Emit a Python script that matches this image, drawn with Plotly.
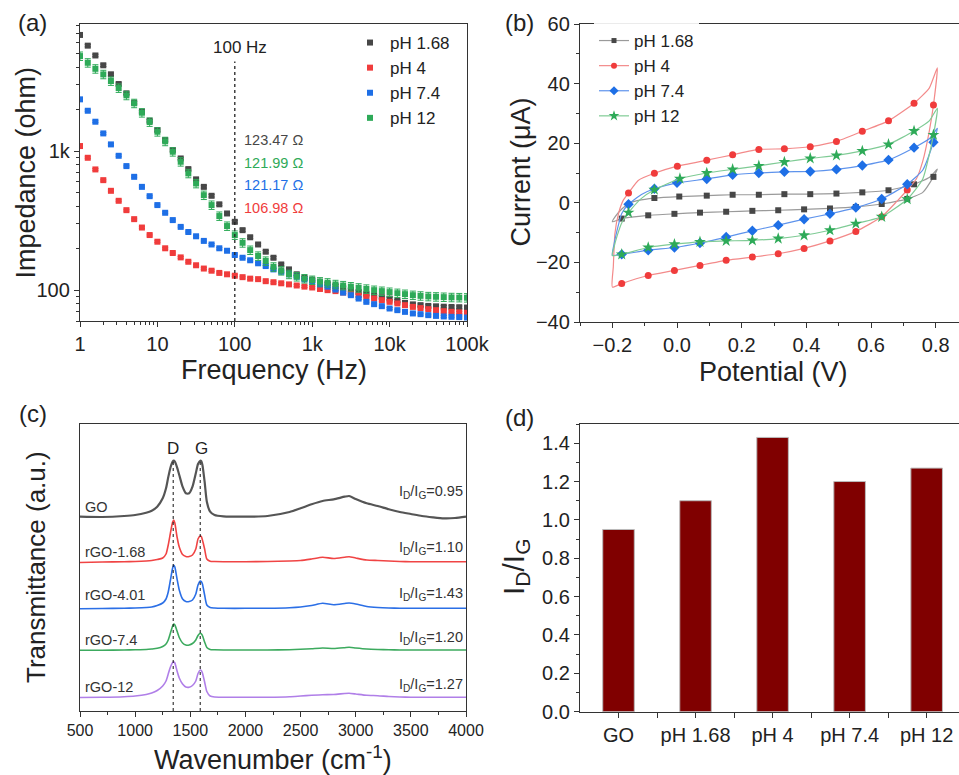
import math
import plotly.graph_objects as go

####### DADOS #######
# (a) Impedancia x frequencia
freq = [1, 1.26, 1.58, 2.0, 2.51, 3.16, 3.98, 5.01, 6.31, 7.94,
        10, 12.6, 15.8, 20.0, 25.1, 31.6, 39.8, 50.1, 63.1, 79.4,
        100, 126, 158, 200, 251, 316, 398, 501, 631, 794,
        1000, 1260, 1580, 2000, 2510, 3160, 3980, 5010, 6310, 7940,
        10000, 12600, 15800, 20000, 25100, 31600, 39800, 50100, 63100, 79400, 100000]
z_ph168 = [6840, 5730, 4870, 4140, 3565, 3035, 2600, 2226, 1919, 1652,
           1416, 1200, 1017, 885, 742, 626, 553, 477, 414, 356,
           310, 270, 240, 213, 189, 171, 153, 141, 130, 123,
           119, 115, 111, 107.5, 104, 100.5, 97, 94, 91, 89,
           87, 84, 81, 79, 78, 77, 76.5, 76, 75.7, 75.4, 75]
z_ph4 = [1087, 895, 738, 618, 518, 439, 376, 324, 282, 249,
         223, 200, 185, 172, 160, 151, 143, 138, 133, 130,
         127, 124, 121, 120, 116, 114, 112, 110, 108, 106,
         104.5, 102, 100, 98.4, 96.2, 93.6, 91.6, 89.6, 87.1, 84.7,
         82.4, 80.2, 78, 75.8, 74.3, 73, 71.8, 70.6, 69.8, 69.2, 68.7]
z_ph74 = [2355, 1950, 1626, 1340, 1117, 925, 780, 653, 553, 474,
          409, 360, 319, 285, 262, 244, 226, 213, 200, 192,
          179, 171, 164, 156, 149, 141, 135.5, 130, 125, 119.5,
          115, 110, 106, 101, 96, 92, 87, 82.4, 79.3, 76.7,
          73.8, 71.8, 69.8, 68, 67.2, 66.1, 65.3, 64.7, 64.3, 64, 63.6]
z_ph12 = [4820, 4315, 3905, 3560, 3190, 2840, 2515, 2205, 1887, 1618,
          1377, 1175, 989, 838, 691, 585, 482, 409, 341, 289,
          249, 219, 194, 176, 162, 147, 138, 130, 125, 121,
          118, 115, 113, 110, 108, 106, 104, 102, 100, 98.4,
          96.8, 95.1, 93.6, 92, 91, 90.1, 89.6, 89.1, 88.7, 88.5, 88.2]
z_erro_pct = [2, 1.5, 1.5, 7]          # barras de erro (%)
z_at_100hz = ["123.47 Ω", "121.99 Ω", "121.17 Ω", "106.98 Ω"]

# (b) Voltametria ciclica (loop fechado: ida e volta)
cv_v_ph168 = [-0.2, -0.19, -0.17, -0.15, -0.12, -0.070, 0.007, 0.092, 0.172, 0.253, 0.332, 0.412, 0.493,
              0.573, 0.654, 0.733, 0.78, 0.805, 0.793, 0.76, 0.712, 0.633, 0.553, 0.473, 0.393, 0.313,
              0.233, 0.152, 0.071, -0.008, -0.089, -0.171, -0.2]
cv_i_ph168 = [-6.4, -4.5, -2.0, -0.3, 0.8, 1.6, 2.1, 2.4, 2.7, 2.7, 2.9, 2.9, 3.1,
              3.5, 4.2, 6.2, 8.5, 11.3, 8.7, 3.5, 1.3, -0.4, -1.4, -1.9, -2.2, -2.5,
              -2.7, -3.0, -3.3, -3.7, -4.2, -5.3, -6.4]
cv_mark_ph168 = [5, 6, 7, 8, 9, 10, 11, 12, 13, 14, 15, 18, 20, 21, 22, 23, 24, 25, 26, 27, 28, 29, 30, 31]

cv_v_ph4 = [-0.2, -0.197, -0.192, -0.181, -0.166, -0.150, -0.120, -0.070, 0.001, 0.092, 0.172, 0.253, 0.332,
            0.412, 0.493, 0.573, 0.654, 0.733, 0.78, 0.805, 0.793, 0.78, 0.76, 0.74, 0.712, 0.68, 0.633,
            0.553, 0.473, 0.393, 0.313, 0.233, 0.152, 0.071, -0.008, -0.089, -0.171, -0.2]
cv_i_ph4 = [-28.3, -21.5, -10.3, -3.6, 0.9, 3.3, 7.5, 9.9, 12.3, 14.3, 16.1, 17.9, 18.1,
            18.8, 20.6, 24.0, 27.5, 33.4, 38.5, 45.3, 32.8, 24, 14, 8, 4.3, 0.5, -4.7,
            -9.6, -12.8, -15.3, -17.1, -18.2, -19.3, -21.0, -22.7, -24.4, -27.1, -28.3]
cv_mark_ph4 = [5, 7, 8, 9, 10, 11, 12, 13, 14, 15, 16, 17, 20, 24, 26, 27, 28, 29, 30, 31, 32, 33, 34, 35, 36]

cv_v_ph74 = [-0.2, -0.195, -0.187, -0.171, -0.150, -0.110, -0.070, 0.0, 0.092, 0.172, 0.253, 0.332, 0.412,
             0.493, 0.573, 0.654, 0.733, 0.78, 0.805, 0.793, 0.76, 0.712, 0.633, 0.553, 0.473, 0.393,
             0.313, 0.233, 0.152, 0.071, -0.008, -0.089, -0.171, -0.2]
cv_i_ph74 = [-17.6, -14, -10, -3.6, -0.5, 2.8, 4.7, 6.7, 8.0, 9.4, 10.0, 10.4, 10.5,
             11.2, 12.5, 14.4, 18.5, 21.5, 25.0, 20.3, 11, 6.2, 1.3, -1.6, -3.7, -5.5,
             -7.5, -9.4, -11.5, -13.5, -15.0, -15.9, -17.3, -17.6]
cv_mark_ph74 = [4, 6, 7, 8, 9, 10, 11, 12, 13, 14, 15, 16, 19, 21, 22, 23, 24, 25, 26, 27, 28, 29, 30, 31, 32]

cv_v_ph12 = [-0.2, -0.195, -0.185, -0.170, -0.150, -0.110, -0.070, 0.009, 0.092, 0.172, 0.253, 0.332, 0.412,
             0.493, 0.573, 0.654, 0.733, 0.78, 0.805, 0.793, 0.76, 0.712, 0.633, 0.553, 0.473, 0.393,
             0.313, 0.233, 0.152, 0.071, -0.008, -0.089, -0.171, -0.2]
cv_i_ph12 = [-17.7, -15, -11, -6.5, -3.3, 1.5, 4.4, 8.1, 10.0, 11.2, 12.4, 13.7, 14.9,
             15.9, 17.4, 19.6, 24.1, 27.5, 31.7, 22.8, 8, 1.2, -4.7, -7.0, -9.2, -10.9,
             -12.0, -12.6, -12.8, -13.1, -13.9, -15.0, -17.3, -17.7]
cv_mark_ph12 = [4, 6, 7, 8, 9, 10, 11, 12, 13, 14, 15, 16, 19, 21, 22, 23, 24, 25, 26, 27, 28, 29, 30, 31, 32]

# (c) Espectros Raman (a.u.)
wavenumber = [500, 700, 900, 1000, 1100, 1150, 1200, 1250, 1280, 1300,
              1320, 1340, 1350, 1360, 1380, 1400, 1430, 1460, 1490, 1520,
              1550, 1570, 1590, 1600, 1610, 1630, 1650, 1680, 1720, 1800,
              2000, 2200, 2400, 2500, 2600, 2700, 2800, 2900, 2940, 3000,
              3100, 3200, 3300, 3400, 3500, 3600, 3700, 3800, 3900, 4000]
raman_go = [194.3, 194, 195, 196, 198.3, 200.3, 204.3, 212.7, 222.7, 233.7,
            243.3, 249.3, 250.3, 249.3, 243.7, 236, 224.3, 217.7, 217.7, 224.3,
            237.7, 247, 250.3, 249.7, 246, 229.3, 209.3, 199.3, 196, 194.7,
            194.3, 195, 199, 202.7, 206.7, 210, 211.7, 214.3, 215, 212,
            207.7, 205, 201.7, 199, 197, 195, 193.7, 192.7, 193, 194.3]
raman_168 = [148.5, 149, 149.3, 149.5, 150, 150.5, 151.5, 153, 157, 166,
             178, 189, 191, 188, 174, 164, 156.5, 154.5, 154.5, 156,
             162, 172, 175, 174.5, 171, 162, 152, 149.8, 149.5, 149.3,
             149.3, 149.5, 150, 150.5, 152, 153.7, 152.5, 153.8, 154.3, 153,
             151, 150.5, 150, 149.5, 149.3, 149.3, 149.3, 149.3, 149.3, 149.3]
raman_401 = [102.3, 102.5, 102.7, 103, 103.5, 104, 105.5, 108, 112, 119,
             131, 143, 146, 144, 132, 121, 112, 109.5, 109.5, 111,
             117, 126, 130, 129.5, 127, 116, 106, 103.5, 103, 102.7,
             102.7, 102.8, 103.3, 104, 105.5, 107.7, 106.3, 107.5, 108, 107,
             104.5, 103.5, 103, 102.8, 102.7, 102.7, 102.7, 102.7, 102.7, 102.7]
raman_74 = [60.7, 60.8, 61, 61.2, 61.5, 62, 62.7, 64.5, 67, 71,
            78, 85, 87, 86, 80, 73.5, 68, 66, 66, 67.5,
            71, 75.5, 77.7, 77.2, 75.5, 69, 63.5, 61.5, 61.2, 61,
            61, 61, 61.3, 61.7, 62.3, 63, 62.5, 63.3, 63.7, 63,
            62, 61.5, 61.2, 61, 61, 61, 61, 61, 61, 61]
raman_12 = [13.5, 13.7, 14.3, 15, 16.5, 18, 20.5, 25, 30, 37,
            44, 48.5, 49.3, 48, 40, 33, 27, 24, 23.8, 25.5,
            30, 37.5, 41, 40.5, 38, 29, 19.5, 15, 14, 13.8,
            13.7, 13.8, 14.3, 15, 15.7, 16.3, 16.5, 17.5, 17.7, 17,
            15.7, 15.3, 14.5, 14, 13.8, 13.7, 13.7, 13.7, 13.7, 13.7]
raman_nomes = ["GO", "rGO-1.68", "rGO-4.01", "rGO-7.4", "rGO-12"]
id_ig_texto = ["0.95", "1.10", "1.43", "1.20", "1.27"]
pico_d = 1345
pico_g = 1590

# (d) Razao ID/IG
id_ig_labels = ["GO", "pH 1.68", "pH 4", "pH 7.4", "pH 12"]
id_ig_values = [0.95, 1.10, 1.43, 1.20, 1.27]
####### DADOS #######

W, H = 959, 775
FONTE = "Liberation Sans, Arial, sans-serif"
EIXO = "#333333"


def px(x):
    return x / W


def py(y):
    return 1 - y / H


nomes_ph = ["pH 1.68", "pH 4", "pH 7.4", "pH 12"]
cores = ["#474747", "#F03C3C", "#1E6FE6", "#2EAA58"]
cores_linha = ["#9A9A9A", "#F38A8A", "#5E93EC", "#7FCB95"]

fig = go.Figure()

# ---- (a) ----
z_series = [z_ph168, z_ph4, z_ph74, z_ph12]
ya_min, ya_max = 60, 8200
for nome, z, cor, erro in zip(nomes_ph, z_series, cores, z_erro_pct):
    fig.add_trace(go.Scatter(x=freq, y=z, mode="markers", name=nome,
                             marker=dict(symbol="square", size=6, color=cor),
                             error_y=dict(type="percent", value=erro, color=cor, thickness=1, width=3),
                             xaxis="x", yaxis="y", legend="legend"))
fig.add_trace(go.Scatter(x=[100, 100], y=[ya_min, 4400], mode="lines",
                         line=dict(color="#222222", width=1.3, dash="dot"),
                         showlegend=False, xaxis="x", yaxis="y", hoverinfo="skip"))

# ---- (b) ----
cv_series = [(cv_v_ph168, cv_i_ph168, cv_mark_ph168),
             (cv_v_ph4, cv_i_ph4, cv_mark_ph4),
             (cv_v_ph74, cv_i_ph74, cv_mark_ph74),
             (cv_v_ph12, cv_i_ph12, cv_mark_ph12)]
simbolos = ["square", "circle", "diamond", "star"]
tamanhos = [6, 7, 8, 9]
for (v, i, marks), nome, cor, cl, sim, tam in zip(cv_series, nomes_ph, cores, cores_linha, simbolos, tamanhos):
    fig.add_trace(go.Scatter(x=v, y=i, mode="lines",
                             line=dict(color=cl, width=1.2, shape="spline", smoothing=0.5),
                             showlegend=False, xaxis="x2", yaxis="y2"))
    fig.add_trace(go.Scatter(x=[v[k] for k in marks], y=[i[k] for k in marks], mode="markers",
                             marker=dict(symbol=sim, size=tam, color=cor),
                             showlegend=False, xaxis="x2", yaxis="y2"))
    # item da legenda (linha + marcador)
    fig.add_trace(go.Scatter(x=[None], y=[None], mode="lines+markers", name=nome,
                             line=dict(color=cl, width=1.2),
                             marker=dict(symbol=sim, size=tam - 1, color=cor),
                             xaxis="x2", yaxis="y2", legend="legend2"))

# ---- (c) ----
raman_series = [raman_go, raman_168, raman_401, raman_74, raman_12]
cores_raman = ["#555555", "#F04444", "#2B6FE6", "#3CAA5E", "#B07FE8"]
larguras_raman = [2.2, 1.6, 1.6, 1.6, 1.6]
for y, cor, lw in zip(raman_series, cores_raman, larguras_raman):
    fig.add_trace(go.Scatter(x=wavenumber, y=y, mode="lines",
                             line=dict(color=cor, width=lw, shape="spline", smoothing=0.6),
                             showlegend=False, xaxis="x3", yaxis="y3"))
for pico in [pico_d, pico_g]:
    fig.add_trace(go.Scatter(x=[pico, pico], y=[0, max(raman_go)], mode="lines",
                             line=dict(color="#111111", width=1, dash="dot"),
                             showlegend=False, xaxis="x3", yaxis="y3", hoverinfo="skip"))

# ---- (d) ----
fig.add_trace(go.Bar(x=list(range(len(id_ig_labels))), y=id_ig_values, width=0.41,
                     marker=dict(color="#800000", line=dict(color="#BBBBBB", width=1)),
                     showlegend=False, xaxis="x4", yaxis="y4"))

eixo_base = dict(showline=True, linecolor=EIXO, linewidth=1.3, ticks="outside", ticklen=5,
                 tickwidth=1.2, tickcolor=EIXO, showgrid=False, zeroline=False, automargin=False,
                 tickfont=dict(size=20, color="#222222", family=FONTE))
minor_base = dict(ticks="outside", ticklen=3, tickwidth=1, tickcolor=EIXO)

minor_x_a = [k * 10 ** d for d in range(5) for k in range(2, 10)]
minor_y_a = [k * 10 ** d for d in range(1, 4) for k in range(2, 10) if ya_min <= k * 10 ** d <= ya_max]

fig.update_layout(
    width=W, height=H, margin=dict(l=0, r=0, t=0, b=0, autoexpand=False),
    plot_bgcolor="white", paper_bgcolor="white",
    font=dict(family=FONTE, color="#222222"),
    xaxis=dict(eixo_base, type="log", range=[0, 5], domain=[px(80), px(467)], mirror=True,
               tickvals=[1, 10, 100, 1000, 10000, 100000], ticktext=["1", "10", "100", "1k", "10k", "100k"],
               minor=dict(minor_base, tickvals=minor_x_a), anchor="y"),
    yaxis=dict(eixo_base, type="log", range=[math.log10(ya_min), math.log10(ya_max)],
               domain=[py(321), py(24)], mirror=True,
               tickvals=[100, 1000], ticktext=["100", "1k"],
               minor=dict(minor_base, tickvals=minor_y_a), anchor="x"),
    xaxis2=dict(eixo_base, range=[-0.3, 0.872], domain=[px(580), 1.0], mirror=True,
                tick0=0, dtick=0.2, tickformat=".1f", minor=dict(minor_base, tick0=0, dtick=0.1), anchor="y2"),
    yaxis2=dict(eixo_base, range=[-40, 60], domain=[py(322), py(24)], mirror=False,
                dtick=20, minor=dict(minor_base, dtick=10), anchor="x2"),
    xaxis3=dict(eixo_base, range=[500, 4000], domain=[px(80), px(466)], mirror=True,
                dtick=500, tickfont=dict(size=16, color="#222222", family=FONTE),
                minor=dict(minor_base, dtick=250), anchor="y3"),
    yaxis3=dict(eixo_base, range=[0, 287], domain=[py(711), py(424)], mirror=True,
                ticks="", showticklabels=False, anchor="x3"),
    xaxis4=dict(eixo_base, range=[-0.5, 4.42], domain=[px(580), 1.0], mirror=True,
                tickvals=list(range(len(id_ig_labels))), ticktext=id_ig_labels,
                minor=dict(minor_base, tickvals=[0.5, 1.5, 2.5, 3.5], ticklen=5), anchor="y4"),
    yaxis4=dict(eixo_base, range=[0, 1.5], domain=[py(711.7), py(424)], mirror=False,
                dtick=0.2, tickformat=".1f", minor=dict(minor_base, dtick=0.1), anchor="x4"),
    legend=dict(x=px(350), y=py(25), xanchor="left", yanchor="top", bgcolor="rgba(255,255,255,0)",
                font=dict(size=17, family=FONTE, color="#222222"), tracegroupgap=0, itemsizing="trace"),
    legend2=dict(x=px(594), y=py(23), xanchor="left", yanchor="top", bgcolor="rgba(255,255,255,0.9)",
                 font=dict(size=17, family=FONTE, color="#222222"), tracegroupgap=0, itemsizing="trace"),
)

anot = []


def texto(t, x, y, size, cor="#222222", ang=0, xa="center", ya="middle"):
    anot.append(dict(text=t, x=px(x), y=py(y), xref="paper", yref="paper", showarrow=False,
                     textangle=ang, xanchor=xa, yanchor=ya,
                     font=dict(size=size, color=cor, family=FONTE)))


# titulos dos eixos
texto("Frequency (Hz)", 273.5, 370, 27)
texto("Impedance (ohm)", 25, 172.5, 27, ang=-90)
texto("Potential (V)", 773, 372, 27)
texto("Current (μA)", 520, 172.5, 27, ang=-90)
texto("Wavenumber (cm<sup>-1</sup>)", 273, 758, 27)
texto("Transmittance (a.u.)", 36, 567, 26, ang=-90)
texto("I<sub>D</sub>/I<sub>G</sub>", 515, 567, 30, ang=-90)

# rotulos dos paineis
texto("(a)", 32, 23, 24)
texto("(b)", 519, 23, 24)
texto("(c)", 33, 413, 24)
texto("(d)", 519, 417, 24)

# (a) anotacoes
texto("100 Hz", 240, 47, 17)
for t, yy, cor in zip(z_at_100hz, [140, 162.7, 185, 208.3], [cores[0], cores[3], cores[2], cores[1]]):
    texto(t, 242, yy, 14.5, cor=cor, xa="left")

# (c) anotacoes
texto("D", 173, 448, 17)
texto("G", 201, 448, 17)
for nome, yy in zip(raman_nomes, [507, 552, 595, 640, 687]):
    texto(nome, 83, yy, 14.5, cor="#333333", xa="left")
for val, yy in zip(id_ig_texto, [492, 548, 594, 638, 685]):
    texto("I<sub>D</sub>/I<sub>G</sub>=" + val, 465, yy, 14.5, cor="#333333", xa="right")

fig.update_layout(annotations=anot)

# sem margem do body, para a figura ocupar a janela toda
fig.write_html("out.html", config={"displayModeBar": False},
               post_script="document.body.style.margin='0';document.body.style.overflow='hidden';")
